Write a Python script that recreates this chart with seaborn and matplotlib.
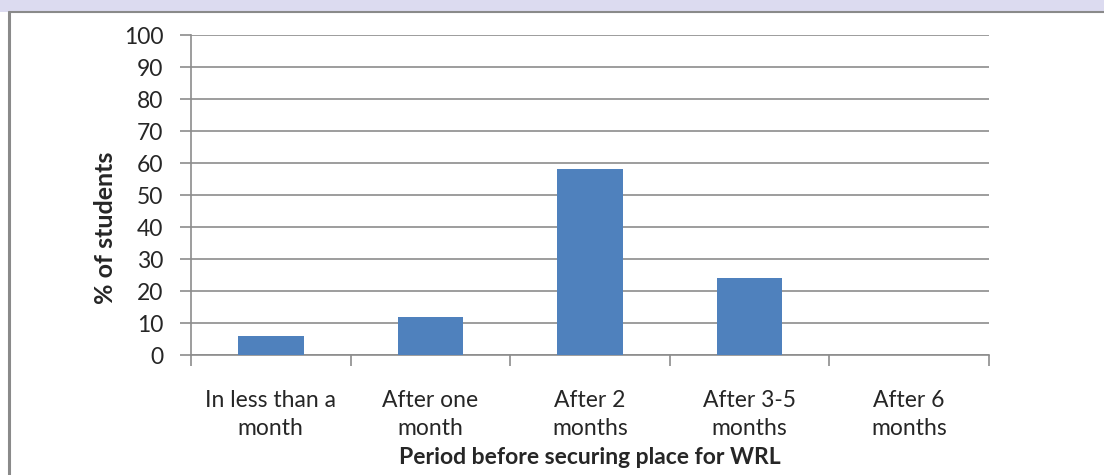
import matplotlib
matplotlib.use("Agg")
import matplotlib.pyplot as plt
import seaborn as sns
import pandas as pd
from matplotlib.patches import Rectangle
from matplotlib.lines import Line2D

categorias = ["In less than a\nmonth", "After one\nmonth", "After 2\nmonths",
              "After 3-5\nmonths", "After 6\nmonths"]
percentuais = [6, 12, 58, 24, 0]
y_ticks = [0, 10, 20, 30, 40, 50, 60, 70, 80, 90, 100]

df = pd.DataFrame({"periodo": categorias, "pct": percentuais})

sns.set_style("white")
plt.rcParams["font.family"] = ["Lato", "DejaVu Sans"]

W, H = 1104, 475
fig = plt.figure(figsize=(W / 100, H / 100), dpi=100)
ax = fig.add_axes([191 / W, 1 - 355 / H, 798 / W, 320 / H])

# faixa lilas no topo e bordas da moldura (so topo e esquerda aparecem)
fig.patches.append(Rectangle((0, 1 - 12 / H), 1, 12 / H, transform=fig.transFigure,
                             facecolor="#dcdbf0", edgecolor="none", zorder=0))
fig.lines.append(Line2D([9 / W, 1], [1 - 12 / H, 1 - 12 / H], transform=fig.transFigure,
                        color="#8a8a8a", linewidth=1.5))
fig.lines.append(Line2D([9 / W, 9 / W], [0, 1 - 12 / H], transform=fig.transFigure,
                        color="#8a8a8a", linewidth=2.2))

sns.barplot(data=df, x="periodo", y="pct", color="#4F81BD", width=0.41,
            saturation=1, linewidth=0, ax=ax, zorder=3)

ax.set_ylim(0, 100)
ax.set_xlim(-0.5, len(categorias) - 0.5)
ax.set_yticks(y_ticks)
ax.yaxis.grid(True, color="#8c8c8c", linewidth=1.2, zorder=0)
ax.set_axisbelow(True)

for lado in ["top", "right"]:
    ax.spines[lado].set_visible(False)
for lado in ["left", "bottom"]:
    ax.spines[lado].set_color("#8c8c8c")
    ax.spines[lado].set_linewidth(1.2)

# ticks do eixo x entre as categorias
ax.set_xticks([i - 0.5 for i in range(len(categorias) + 1)], minor=True)
ax.tick_params(axis="x", which="minor", bottom=True, length=8, width=1.2, color="#8c8c8c")
ax.tick_params(axis="x", which="major", length=0, pad=25, labelsize=16.5)
ax.tick_params(axis="y", left=True, length=8, width=1.2, color="#8c8c8c",
               labelsize=16.5, pad=12)
for t in ax.get_xticklabels():
    t.set_linespacing(1.4)

ax.set_xlabel("Period before securing place for WRL", fontsize=16.5, fontweight="bold")
ax.xaxis.set_label_coords(0.5, (355 - 447) / 320)
ax.set_ylabel("% of students", fontsize=18, fontweight="bold")
ax.yaxis.set_label_coords((117 - 191) / 798, (355 - 228) / 320)

fig.savefig("out.png", dpi=100)
